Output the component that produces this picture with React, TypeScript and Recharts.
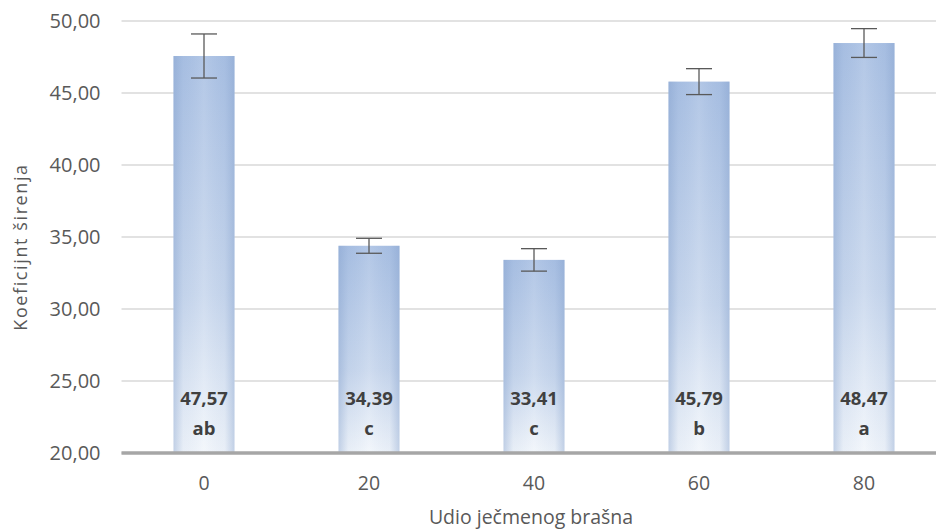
import React from "react";
import { BarChart, Bar, XAxis, YAxis, CartesianGrid, ErrorBar, LabelList } from "recharts";

const categories = ["0", "20", "40", "60", "80"];
const means = [47.57, 34.39, 33.41, 45.79, 48.47];
const errors = [1.53, 0.52, 0.78, 0.9, 1.0];
const letters = ["ab", "c", "c", "b", "a"];
const yTicks = [20, 25, 30, 35, 40, 45, 50];

const data = categories.map((c, i) => ({ cat: c, value: means[i], err: errors[i], letter: letters[i] }));

const FONT = "'Open Sans', 'Noto Sans', sans-serif";
const fmt = (v: number) => v.toFixed(2).replace(".", ",");

const BarShape = (props: any) => {
  const { x, y, width, height } = props;
  if (width == null || height == null) return null;
  return (
    <g>
      <rect x={x} y={y} width={width} height={height} fill="url(#vgrad)" />
      <rect x={x} y={y} width={width} height={height} fill="url(#hgrad)" />
    </g>
  );
};

const BarLabel = (props: any) => {
  const { x, y, width, height, index } = props;
  const cx = x + width / 2;
  const bottom = y + height;
  return (
    <g fontFamily={FONT} fontWeight={700} fontSize={18.5} fill="#404040" textAnchor="middle">
      <text x={cx} y={bottom - 48}>{fmt(means[index])}</text>
      <text x={cx} y={bottom - 18}>{letters[index]}</text>
    </g>
  );
};

export default function App() {
  return (
    <div style={{ position: "fixed", left: 0, top: 0, width: 936, height: 532, overflow: "hidden", background: "#fff" }}>
      <BarChart
        width={960}
        height={532}
        data={data}
        margin={{ top: 21, right: 13.5, left: 0, bottom: 0 }}
        barSize={61}
      >
        <defs>
          <linearGradient id="vgrad" x1="0" y1="0" x2="0" y2="1">
            <stop offset="0%" stopColor="#a9c0e3" />
            <stop offset="60%" stopColor="#c8d7ed" />
            <stop offset="100%" stopColor="#f2f6fb" />
          </linearGradient>
          <linearGradient id="hgrad" x1="0" y1="0" x2="1" y2="0">
            <stop offset="0%" stopColor="#7f9cc9" stopOpacity={0.42} />
            <stop offset="16%" stopColor="#7f9cc9" stopOpacity={0.08} />
            <stop offset="50%" stopColor="#ffffff" stopOpacity={0.12} />
            <stop offset="84%" stopColor="#7f9cc9" stopOpacity={0.08} />
            <stop offset="100%" stopColor="#7f9cc9" stopOpacity={0.42} />
          </linearGradient>
        </defs>
        <CartesianGrid horizontal vertical={false} stroke="#d9d9d9" strokeWidth={1.5} />
        <XAxis
          dataKey="cat"
          height={79}
          axisLine={{ stroke: "#a6a6a6", strokeWidth: 3.5 }}
          tickLine={false}
          tickSize={0}
          tickMargin={23}
          tick={{ fontFamily: FONT, fontSize: 19.5, fill: "#595959" }}
          label={{
            content: () => (
              <text x={531} y={524} textAnchor="middle" fontFamily={FONT} fontSize={19.5} fill="#595959">
                Udio ječmenog brašna
              </text>
            ),
          }}
        />
        <YAxis
          width={121.5}
          domain={[20, 50]}
          ticks={yTicks}
          axisLine={false}
          tickLine={false}
          tickSize={0}
          tickMargin={21}
          tickFormatter={fmt}
          tick={{ fontFamily: FONT, fontSize: 20, fill: "#595959" }}
          label={{
            content: () => (
              <text
                x={27}
                y={247}
                transform="rotate(-90, 27, 247)"
                textAnchor="middle"
                fontFamily={FONT}
                fontSize={18}
                letterSpacing={1.6}
                fill="#595959"
              >
                Koeficijnt širenja
              </text>
            ),
          }}
        />
        <Bar dataKey="value" shape={<BarShape />} isAnimationActive={false}>
          <ErrorBar dataKey="err" width={13} stroke="#595959" strokeWidth={1.3} direction="y" />
          <LabelList dataKey="value" content={<BarLabel />} />
        </Bar>
      </BarChart>
    </div>
  );
}
